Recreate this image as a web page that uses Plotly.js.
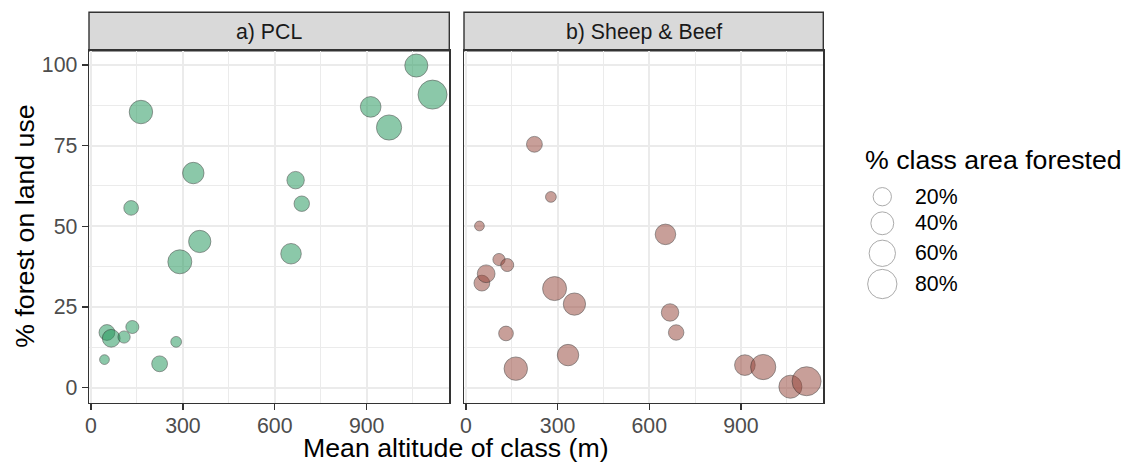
<!DOCTYPE html>
<html>
<head>
<meta charset="utf-8">
<script src="https://cdn.plot.ly/plotly-3.0.1.min.js"></script>
<style>html,body{margin:0;padding:0;background:#fff;}#chart{width:1126px;height:465px;}</style>
</head>
<body>
<div id="chart"></div>
<script>
// ---- data ----
const panelTitles = ['a) PCL', 'b) Sheep & Beef'];
const altitude = [44, 52, 66, 108, 131, 135, 163, 224, 278, 290, 334, 355, 653, 668, 688, 913, 973, 1062, 1115];
const pctForestPCL = [8.7, 17.1, 15.3, 15.7, 55.7, 18.8, 85.4, 7.4, 14.2, 39.0, 66.5, 45.3, 41.5, 64.3, 57.0, 87.0, 80.6, 99.8, 90.8];
const pctForestSheepBeef = [50.1, 32.4, 35.3, 39.7, 16.8, 38.0, 5.9, 75.4, 59.1, 30.7, 10.1, 25.9, 47.5, 23.3, 17.1, 7.0, 6.4, 0.3, 2.0];
const pctClassForested = [1, 12, 18, 4, 9, 5.4, 43, 12, 2, 46, 33, 37, 29, 17, 11, 29.5, 53, 41, 78];
const legendValues = [20, 40, 60, 80];
const legendLabels = ['20%', '40%', '60%', '80%'];
const xTickVals = [0, 300, 600, 900];
const xTickText = ['0', '300', '600', '900'];
const yTickVals = [0, 25, 50, 75, 100];
const yTickText = ['0', '25', '50', '75', '100'];

// ---- styling / layout ----
const W = 1126, H = 465;
const FONT = '"Liberation Sans", Arial, sans-serif';
const sizeOf = v => 7.3 + 2.46 * Math.sqrt(v);
const px = v => v / W;
const py = v => 1 - v / H;

const panelA = [89, 449.3], panelB = [464, 823.3];
const plotTop = 50.7, plotBottom = 402.7, stripTop = 12.3;

const commonX = {
  range: [-6.53, 1169.7], tickmode: 'array', tickvals: xTickVals, ticktext: xTickText,
  ticks: 'outside', ticklen: 6, tickwidth: 1.3, tickcolor: '#333333', ticklabelstandoff: -3,
  tickfont: {family: FONT, size: 21.3, color: '#4d4d4d'},
  showgrid: true, gridcolor: '#ebebeb', gridwidth: 2, zeroline: false,
  showline: true, mirror: true, linecolor: '#333333', linewidth: 1.4,
  minor: {tickmode: 'linear', tick0: 0, dtick: 150, showgrid: true, gridcolor: '#ebebeb', gridwidth: 1, ticks: ''},
  fixedrange: true
};
const commonY = {
  range: [-4.65, 104.4], tickmode: 'array', tickvals: yTickVals, ticktext: yTickText,
  ticks: 'outside', ticklen: 6, tickwidth: 1.3, tickcolor: '#333333',
  tickfont: {family: FONT, size: 21.3, color: '#4d4d4d'},
  showgrid: true, gridcolor: '#ebebeb', gridwidth: 2, zeroline: false,
  showline: true, mirror: true, linecolor: '#333333', linewidth: 1.4,
  minor: {tickmode: 'linear', tick0: 12.5, dtick: 25, showgrid: true, gridcolor: '#ebebeb', gridwidth: 1, ticks: ''},
  domain: [py(plotBottom), py(plotTop)], fixedrange: true
};

const sizes = pctClassForested.map(sizeOf);

const traces = [
  {
    type: 'scatter', mode: 'markers', x: altitude, y: pctForestPCL, xaxis: 'x', yaxis: 'y',
    marker: {size: sizes, sizemode: 'diameter', color: 'rgba(28,148,86,0.72)', line: {color: 'rgba(25,25,25,0.75)', width: 0.8}},
    showlegend: false, hoverinfo: 'skip', cliponaxis: false
  },
  {
    type: 'scatter', mode: 'markers', x: altitude, y: pctForestSheepBeef, xaxis: 'x2', yaxis: 'y2',
    marker: {size: sizes, sizemode: 'diameter', color: 'rgba(148,66,54,0.72)', line: {color: 'rgba(25,25,25,0.75)', width: 0.8}},
    showlegend: false, hoverinfo: 'skip', cliponaxis: false
  }
];

// legend keys drawn in a hidden pixel-scaled subplot
const legendKeyX = 882.3;
const legendKeyY = [196.7, 223.3, 253.3, 284];
const legendLabelX = 913;
traces.push({
  type: 'scatter', mode: 'markers', x: legendValues.map(() => legendKeyX), y: legendKeyY,
  xaxis: 'x3', yaxis: 'y3',
  marker: {size: legendValues.map(sizeOf), color: '#ffffff', line: {color: '#7a7a7a', width: 0.9}},
  showlegend: false, hoverinfo: 'skip', cliponaxis: false
});

const annotations = [];
[panelA, panelB].forEach((p, i) => {
  annotations.push({
    text: panelTitles[i], xref: 'paper', yref: 'paper',
    x: px((p[0] + p[1]) / 2), y: py((stripTop + plotTop) / 2),
    xanchor: 'center', yanchor: 'middle', showarrow: false,
    font: {family: FONT, size: 21.3, color: '#1a1a1a'}
  });
});
annotations.push({
  text: 'Mean altitude of class (m)', xref: 'paper', yref: 'paper',
  x: px((panelA[0] + panelB[1]) / 2), y: 0, xanchor: 'center', yanchor: 'bottom',
  showarrow: false, font: {family: FONT, size: 26.7, color: '#000000'}
});
annotations.push({
  text: '% forest on land use', xref: 'paper', yref: 'paper',
  x: px(25), y: py((plotTop + plotBottom) / 2), xanchor: 'center', yanchor: 'middle',
  textangle: -90, showarrow: false, font: {family: FONT, size: 26.7, color: '#000000'}
});
annotations.push({
  text: '% class area forested', xref: 'paper', yref: 'paper',
  x: px(863), y: py(160), xanchor: 'left', yanchor: 'middle',
  showarrow: false, font: {family: FONT, size: 26.7, color: '#000000'}
});
legendLabels.forEach((t, i) => {
  annotations.push({
    text: t, xref: 'x3', yref: 'y3', x: legendLabelX, y: legendKeyY[i],
    xanchor: 'left', yanchor: 'middle', showarrow: false,
    font: {family: FONT, size: 21.3, color: '#000000'}
  });
});

const shapes = [panelA, panelB].map(p => ({
  type: 'rect', xref: 'paper', yref: 'paper',
  x0: px(p[0]), x1: px(p[1]), y0: py(plotTop), y1: py(stripTop),
  fillcolor: '#d9d9d9', line: {color: '#333333', width: 1.4}, layer: 'below'
}));

const layout = {
  width: W, height: H, margin: {l: 0, r: 0, t: 0, b: 0},
  paper_bgcolor: '#ffffff', plot_bgcolor: 'rgba(0,0,0,0)',
  font: {family: FONT},
  showlegend: false,
  xaxis: Object.assign({}, commonX, {domain: [px(panelA[0]), px(panelA[1])], anchor: 'y'}),
  yaxis: Object.assign({}, commonY, {anchor: 'x'}),
  xaxis2: Object.assign({}, commonX, {domain: [px(panelB[0]), px(panelB[1])], anchor: 'y2'}),
  yaxis2: Object.assign({}, commonY, {anchor: 'x2', showticklabels: false, ticks: ''}),
  xaxis3: {domain: [px(850), 1], range: [850, 1126], visible: false, fixedrange: true, anchor: 'y3'},
  yaxis3: {domain: [py(310), py(140)], range: [310, 140], visible: false, fixedrange: true, anchor: 'x3'},
  annotations: annotations,
  shapes: shapes
};

Plotly.newPlot('chart', traces, layout, {staticPlot: true, displayModeBar: false});
</script>
</body>
</html>
